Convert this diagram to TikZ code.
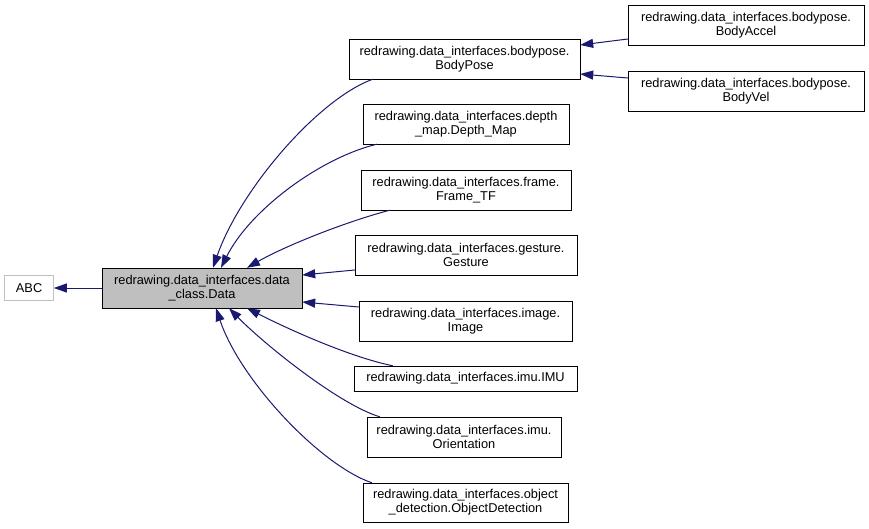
\documentclass[tikz,border=0pt]{standalone}
\usepackage{fontspec}
\setmainfont{Liberation Sans}
\usepackage{tikz}
\usetikzlibrary{positioning}
\usetikzlibrary{arrows.meta}
\definecolor{edgeblue}{RGB}{25,25,112}
\definecolor{boxgray}{RGB}{191,191,191}
\begin{document}
\begin{tikzpicture}[x=1pt,y=-1pt,
  box/.style={draw,align=center,inner sep=0pt,minimum height=40pt,font=\fontsize{12.8}{14}\selectfont},
  base/.style={box,draw=boxgray,minimum height=25pt},
  here/.style={box,fill=boxgray},
  edge/.style={draw=edgeblue,line width=1pt,-{Triangle[length=13pt,width=9pt]}}]
\useasboundingbox (0,0) rectangle (869,529);
\node[here,minimum width=200pt] (data) at (202,288) {redrawing.data\_interfaces.data\\ \_class.Data};
\node[base,minimum width=49pt,left=48pt of data] (abc) {ABC};
\node[box,minimum width=231pt] (bp) at (464.5,59) {redrawing.data\_interfaces.bodypose.\\ BodyPose};
\node[box,minimum width=206pt] (depth) at (466,124) {redrawing.data\_interfaces.depth\\ \_map.Depth\_Map};
\node[box,minimum width=210pt] (frame) at (466,190) {redrawing.data\_interfaces.frame.\\ Frame\_TF};
\node[box,minimum width=222pt] (gest) at (466,255) {redrawing.data\_interfaces.gesture.\\ Gesture};
\node[box,minimum width=213pt] (img) at (465.5,321) {redrawing.data\_interfaces.image.\\ Image};
\node[box,minimum width=223pt,minimum height=25pt] (imu) at (465.5,378.5) {redrawing.data\_interfaces.imu.IMU};
\node[box,minimum width=194pt] (ori) at (464,437) {redrawing.data\_interfaces.imu.\\ Orientation};
\node[box,minimum width=205pt,minimum height=39pt] (objdet) at (465.5,502.5) {redrawing.data\_interfaces.object\\ \_detection.ObjectDetection};
\node[box,minimum width=236pt] (bacc) at (746,25) {redrawing.data\_interfaces.bodypose.\\ BodyAccel};
\node[box,minimum width=236pt] (bvel) at (746,91) {redrawing.data\_interfaces.bodypose.\\ BodyVel};
\draw[edge] (data.west) -- (abc.east);
\draw[edge] ([xshift=24pt]bp.south west) .. controls (318,99) and (240,190) .. ([xshift=11pt]data.north);
\draw[edge] ([xshift=14pt]depth.south west) .. controls (320,158) and (250,210) .. ([xshift=19pt]data.north);
\draw[edge] ([xshift=29pt]frame.south west) .. controls (345,222) and (285,246) .. ([xshift=45pt]data.north);
\draw[edge] ([yshift=-15pt]gest.west) -- ([yshift=13pt]data.east);
\draw[edge] ([yshift=14pt]img.west) -- ([yshift=-14pt]data.east);
\draw[edge] ([xshift=39pt]imu.north west) .. controls (350,357) and (290,330) .. ([xshift=45pt]data.south);
\draw[edge] ([xshift=13pt]ori.north west) .. controls (340,405) and (265,345) .. ([xshift=27pt]data.south);
\draw[edge] ([xshift=9pt]objdet.north west) .. controls (320,465) and (240,380) .. ([xshift=14pt]data.south);
\draw[edge] ([yshift=-14pt]bacc.west) -- ([yshift=14pt]bp.east);
\draw[edge] ([yshift=13pt]bvel.west) -- ([yshift=-15pt]bp.east);
\end{tikzpicture}
\end{document}
